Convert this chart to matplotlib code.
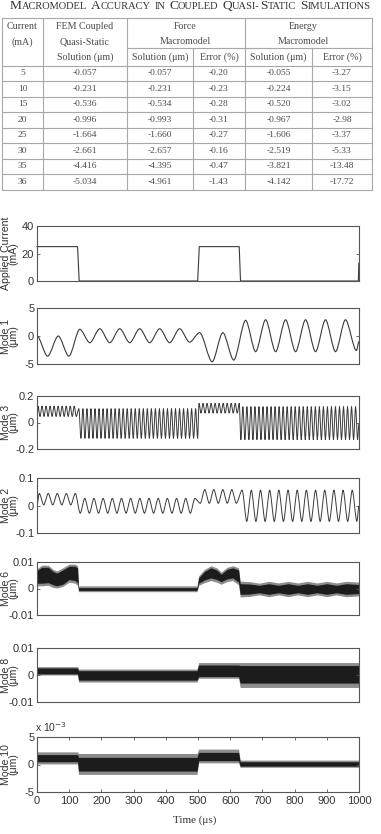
import numpy as np
import matplotlib
matplotlib.use("Agg")
import matplotlib.pyplot as plt
from matplotlib.lines import Line2D
from matplotlib.path import Path
from matplotlib.patches import PathPatch
from matplotlib import font_manager as fm

W, H = 381, 834

# ---------------- table data ----------------
title_text = "Macromodel Accuracy in Coupled Quasi-Static Simulations"
tbl_current = [5, 10, 15, 20, 25, 30, 35, 36]
tbl_fem = [-0.057, -0.231, -0.536, -0.996, -1.664, -2.661, -4.416, -5.034]
tbl_force_sol = [-0.057, -0.231, -0.534, -0.993, -1.660, -2.657, -4.395, -4.961]
tbl_force_err = [-0.20, -0.23, -0.28, -0.31, -0.27, -0.16, -0.47, -1.43]
tbl_energy_sol = [-0.055, -0.224, -0.520, -0.967, -1.606, -2.519, -3.821, -4.142]
tbl_energy_err = [-3.27, -3.15, -3.02, -2.98, -3.37, -5.33, -13.48, -17.72]

# ---------------- waveform data ----------------
time_ticks = [0, 100, 200, 300, 400, 500, 600, 700, 800, 900, 1000]

current_t = [0, 126, 131, 499, 504, 628, 632, 998, 999.5]
current_v = [25, 25, 0, 0, 25, 25, 0, 0, 13]

# Mode 1 extrema (time, value)
mode1_t = [0, 33, 66, 99, 133, 164, 195, 226, 257, 288, 319, 350, 381, 412, 443, 474,
           505, 544, 577, 611, 648, 679, 710, 741, 772, 803, 834, 865, 896, 927, 958, 992, 1000]
mode1_v = [0, -3.6, 0, -3.6, 1.2, -1.2, 1.3, -1.2, 1.3, -1.2, 1.3, -1.2, 1.3, -1.2, 1.3, -1.1,
           0.6, -4.6, 0.6, -4.3, 2.8, -2.8, 2.9, -2.8, 2.9, -2.8, 2.9, -2.8, 2.9, -2.8, 2.9, -2.6, -1.0]

# Mode 3 oscillation segments: start, end, period, high level, low level
mode3_start = [0, 127, 500, 630]
mode3_end = [127, 500, 630, 1000]
mode3_period = [12.5, 12.5, 12.5, 12.5]
mode3_high = [0.125, 0.105, 0.145, 0.12]
mode3_low = [0.045, -0.12, 0.07, -0.13]

# Mode 2 oscillation segments
mode2_start = [0, 127, 500, 630]
mode2_end = [127, 500, 630, 1000]
mode2_period = [28, 28.5, 28, 28.5]
mode2_high = [0.044, 0.026, 0.058, 0.056]
mode2_low = [0.002, -0.028, 0.008, -0.058]

# Mode 6 dense band envelopes (outer spikes and dense core)
mode6_t = [0, 15, 35, 50, 62, 80, 100, 118, 126, 129, 250, 380, 497, 502, 520, 540, 558, 572,
           590, 608, 626, 631, 660, 690, 720, 750, 780, 810, 840, 870, 900, 930, 960, 1000]
mode6_up = [0.0075, 0.0088, 0.0088, 0.0072, 0.0066, 0.0078, 0.0092, 0.0092, 0.0086, 0.0010,
            0.0010, 0.0010, 0.0010, 0.0048, 0.0072, 0.0086, 0.0078, 0.0062, 0.0080, 0.0086,
            0.0078, 0.0028, 0.0026, 0.0020, 0.0027, 0.0021, 0.0027, 0.0021, 0.0027, 0.0021,
            0.0027, 0.0021, 0.0027, 0.0024]
mode6_lo = [0.0010, 0.0010, 0.0012, 0.0004, 0.0002, 0.0008, 0.0024, 0.0020, 0.0012, -0.0012,
            -0.0012, -0.0012, -0.0012, 0.0012, 0.0022, 0.0030, 0.0024, 0.0016, 0.0026, 0.0030,
            0.0014, -0.0032, -0.0030, -0.0024, -0.0031, -0.0024, -0.0031, -0.0024, -0.0031,
            -0.0024, -0.0031, -0.0024, -0.0031, -0.0028]
mode6_core_up = [0.0068, 0.0080, 0.0080, 0.0064, 0.0058, 0.0070, 0.0084, 0.0084, 0.0078, 0.0003,
                 0.0003, 0.0003, 0.0003, 0.0040, 0.0064, 0.0078, 0.0070, 0.0054, 0.0072, 0.0078,
                 0.0070, 0.0018, 0.0017, 0.0012, 0.0018, 0.0012, 0.0018, 0.0012, 0.0018, 0.0012,
                 0.0018, 0.0012, 0.0018, 0.0015]
mode6_core_lo = [0.0020, 0.0020, 0.0022, 0.0014, 0.0010, 0.0016, 0.0034, 0.0030, 0.0022, -0.0007,
                 -0.0007, -0.0007, -0.0007, 0.0020, 0.0032, 0.0040, 0.0034, 0.0026, 0.0036, 0.0040,
                 0.0024, -0.0022, -0.0021, -0.0016, -0.0022, -0.0016, -0.0022, -0.0016, -0.0022,
                 -0.0016, -0.0022, -0.0016, -0.0022, -0.0019]

# Mode 8 dense band envelopes
mode8_t = [0, 126, 129, 497, 502, 626, 631, 1000]
mode8_up = [0.0031, 0.0031, 0.0022, 0.0022, 0.0046, 0.0046, 0.0046, 0.0046]
mode8_lo = [0.0000, 0.0000, -0.0026, -0.0026, -0.0012, -0.0012, -0.0046, -0.0046]
mode8_core_up = [0.0026, 0.0026, 0.0016, 0.0016, 0.0037, 0.0037, 0.0035, 0.0035]
mode8_core_lo = [0.0004, 0.0004, -0.0019, -0.0019, -0.0006, -0.0006, -0.0030, -0.0030]

# Mode 10 dense band envelopes (units of 1e-3 um)
mode10_t = [0, 126, 129, 497, 502, 626, 631, 1000]
mode10_up = [2.3, 2.3, 2.0, 2.0, 2.8, 2.8, 0.8, 0.8]
mode10_lo = [0.1, 0.1, -1.8, -1.8, 0.3, 0.3, -0.5, -0.5]
mode10_core_up = [1.8, 1.8, 1.3, 1.3, 2.2, 2.2, 0.5, 0.5]
mode10_core_lo = [0.5, 0.5, -1.2, -1.2, 0.7, 0.7, -0.3, -0.3]

# ---------------- fonts / styles ----------------
_names = {f.name for f in fm.fontManager.ttflist}
def pick(fams):
    r = [f for f in fams if f in _names]
    return r if r else ['DejaVu Sans']
SANS = pick(['Liberation Sans Narrow', 'Liberation Sans', 'DejaVu Sans'])
SERIF = pick(['Liberation Serif', 'DejaVu Serif'])
plt.rcParams['font.family'] = SANS

LINE_C = '#3a3a3a'
SPINE_C = '#555555'
TEXT_C = '#333333'
TBL_TXT = '#4a4a4a'
TBL_LINE = '#a8a8a8'

fig = plt.figure(figsize=(W / 100, H / 100), dpi=100)
fig.patch.set_facecolor('white')

def FX(x):
    return x / W

def FY(y):
    return 1 - y / H

# ---------------- title (small caps) ----------------
renderer = fig.canvas.get_renderer()
def small_caps(text, xc, ybase, big, small, color):
    runs = []
    for ch in text:
        if ch == ' ':
            runs.append((' ', None))
            continue
        size = big if ch.isupper() else small
        s = ch.upper()
        if runs and runs[-1][1] == size:
            runs[-1] = (runs[-1][0] + s, size)
        else:
            runs.append((s, size))
    widths = []
    for s, size in runs:
        if size is None:
            widths.append(0.30 * big * 100 / 72)
        else:
            t = fig.text(0, 0, s, fontsize=size, family=SERIF)
            widths.append(t.get_window_extent(renderer).width)
            t.remove()
    total = sum(widths)
    x = xc - total / 2
    for (s, size), w in zip(runs, widths):
        if size is not None:
            fig.text(FX(x), FY(ybase), s, fontsize=size, family=SERIF, color=color,
                     ha='left', va='baseline')
        x += w

small_caps(title_text, 190, 8.8, 9.6, 7.5, TEXT_C)

# ---------------- table ----------------
col_x = [2, 43, 127, 193, 245, 312, 372]
tbl_top = 18
sub_line = 48.3
head_bot = 65.7
row_h = 15.5
n_rows = len(tbl_current)
tbl_bot = head_bot + row_h * n_rows

def hline(y, x0, x1):
    fig.add_artist(Line2D([FX(x0), FX(x1)], [FY(y), FY(y)], color=TBL_LINE, lw=0.8,
                          transform=fig.transFigure))

def vline(x, y0, y1):
    fig.add_artist(Line2D([FX(x), FX(x)], [FY(y0), FY(y1)], color=TBL_LINE, lw=0.8,
                          transform=fig.transFigure))

hline(tbl_top, col_x[0], col_x[-1])
hline(sub_line, col_x[2], col_x[-1])
for i in range(n_rows + 1):
    hline(head_bot + i * row_h, col_x[0], col_x[-1])
for xi in [col_x[0], col_x[1], col_x[2], col_x[4], col_x[6]]:
    vline(xi, tbl_top, tbl_bot)
for xi in [col_x[3], col_x[5]]:
    vline(xi, sub_line, tbl_bot)

HS = 7.2
def ttext(x, y, s, size=HS):
    fig.text(FX(x), FY(y), s, fontsize=size, family=SERIF, color=TBL_TXT,
             ha='center', va='center')

cc = [(col_x[i] + col_x[i + 1]) / 2 for i in range(6)]
ttext(cc[0], 26.7, "Current")
ttext(cc[0], 41.7, "(mA)")
ttext(cc[1], 26.7, "FEM Coupled")
ttext(cc[1], 41.7, "Quasi-Static")
ttext(cc[1], 56.9, "Solution (\u03bcm)")
ttext(185, 26.7, "Force")
ttext(185, 41.7, "Macromodel")
ttext(303, 26.7, "Energy")
ttext(303, 41.7, "Macromodel")
ttext(cc[2], 56.9, "Solution (\u03bcm)")
ttext(cc[3], 56.9, "Error (%)")
ttext(cc[4], 56.9, "Solution (\u03bcm)")
ttext(cc[5], 56.9, "Error (%)")

NS = 6.8
for i in range(n_rows):
    yc = head_bot + row_h * (i + 0.5)
    ttext(cc[0], yc, f"{tbl_current[i]}", NS)
    ttext(cc[1], yc, f"{tbl_fem[i]:.3f}", NS)
    ttext(cc[2], yc, f"{tbl_force_sol[i]:.3f}", NS)
    ttext(cc[3], yc, f"{tbl_force_err[i]:.2f}", NS)
    ttext(cc[4], yc, f"{tbl_energy_sol[i]:.3f}", NS)
    ttext(cc[5], yc, f"{tbl_energy_err[i]:.2f}", NS)

# ---------------- waveform axes ----------------
AX_L, AX_R = 37, 359
TICK_FS = 8

def make_ax(top, bottom, yticks, ylabels, ylim, label, bottom_axis=False):
    ax = fig.add_axes([FX(AX_L), FY(bottom), (AX_R - AX_L) / W, (bottom - top) / H])
    for s in ax.spines.values():
        s.set_color(SPINE_C)
        s.set_linewidth(0.8)
    ax.set_xlim(0, 1000)
    ax.set_ylim(*ylim)
    ax.set_yticks(yticks)
    ax.set_yticklabels(ylabels)
    ax.tick_params(axis='y', direction='in', length=2.5, width=0.6, left=True, right=True,
                   labelsize=TICK_FS, pad=2, color=SPINE_C, labelcolor=TEXT_C)
    if bottom_axis:
        ax.set_xticks(time_ticks)
        ax.set_xticklabels([str(t) for t in time_ticks])
        ax.tick_params(axis='x', direction='in', length=2.5, width=0.6, top=True, bottom=True,
                       labelsize=TICK_FS, pad=3, color=SPINE_C, labelcolor=TEXT_C)
    else:
        ax.set_xticks([])
    yc = (top + bottom) / 2
    fig.text(FX(9.6), FY(yc), label, rotation=90, ha='center', va='center',
             multialignment='center', linespacing=0.72, fontsize=7.6, color=TEXT_C)
    return ax

def smooth_path(ts, vs, a=0.3):
    verts = [(ts[0], vs[0])]
    codes = [Path.MOVETO]
    for i in range(1, len(ts)):
        t0, v0, t1, v1 = ts[i - 1], vs[i - 1], ts[i], vs[i]
        dt = t1 - t0
        verts += [(t0 + a * dt, v0), (t1 - a * dt, v1), (t1, v1)]
        codes += [Path.CURVE4] * 3
    return Path(verts, codes)

def seg_extrema(starts, ends, periods, highs, lows):
    ts, vs = [0.0], [0.0]
    hi = True
    for s, e, p, h, l in zip(starts, ends, periods, highs, lows):
        t = s + p / 4
        while t < e - 1e-6:
            ts.append(t)
            vs.append(h if hi else l)
            hi = not hi
            t += p / 2
    ts.append(1000.0)
    vs.append((highs[-1] + lows[-1]) / 2)
    return ts, vs

# Applied current
ax = make_ax(226, 281, [0, 20, 40], ['0', '20', '40'], (0, 40), "Applied Current\n(mA)")
ax.plot(current_t, current_v, color=LINE_C, lw=0.8, clip_on=False)

# Mode 1
ax = make_ax(308, 364, [-5, 0, 5], ['-5', '0', '5'], (-5, 5), "Mode 1\n(\u03bcm)")
ax.add_patch(PathPatch(smooth_path(mode1_t, mode1_v), fill=False, edgecolor=LINE_C, lw=0.8))

# Mode 3
ax = make_ax(396, 449, [-0.2, 0, 0.2], ['-0.2', '0', '0.2'], (-0.2, 0.2), "Mode 3\n(\u03bcm)")
t3, v3 = seg_extrema(mode3_start, mode3_end, mode3_period, mode3_high, mode3_low)
ax.add_patch(PathPatch(smooth_path(t3, v3, 0.25), fill=False, edgecolor=LINE_C, lw=0.7))

# Mode 2
ax = make_ax(478, 533, [-0.1, 0, 0.1], ['-0.1', '0', '0.1'], (-0.1, 0.1), "Mode 2\n(\u03bcm)")
t2, v2 = seg_extrema(mode2_start, mode2_end, mode2_period, mode2_high, mode2_low)
ax.add_patch(PathPatch(smooth_path(t2, v2, 0.28), fill=False, edgecolor=LINE_C, lw=0.7))

# Mode 6
ax = make_ax(562, 615, [-0.01, 0, 0.01], ['-0.01', '0', '0.01'], (-0.01, 0.01), "Mode 6\n(\u03bcm)")
ax.fill_between(mode6_t, mode6_lo, mode6_up, color='#8c8c8c', lw=0)
ax.fill_between(mode6_t, mode6_core_lo, mode6_core_up, color='#1c1c1c', lw=0)

# Mode 8
ax = make_ax(648, 702, [-0.01, 0, 0.01], ['-0.01', '0', '0.01'], (-0.01, 0.01), "Mode 8\n(\u03bcm)")
ax.fill_between(mode8_t, mode8_lo, mode8_up, color='#8c8c8c', lw=0)
ax.fill_between(mode8_t, mode8_core_lo, mode8_core_up, color='#1c1c1c', lw=0)

# Mode 10
ax = make_ax(737, 792, [-5, 0, 5], ['-5', '0', '5'], (-5, 5), "Mode 10\n(\u03bcm)", bottom_axis=True)
ax.fill_between(mode10_t, mode10_lo, mode10_up, color='#8c8c8c', lw=0)
ax.fill_between(mode10_t, mode10_core_lo, mode10_core_up, color='#1c1c1c', lw=0)
fig.text(FX(35), FY(732), r"x 10$^{-3}$", fontsize=7.5, color=TEXT_C, ha='left', va='baseline')

fig.text(FX(195), FY(820), "Time (\u03bcs)", fontsize=8, family=SERIF, color=TEXT_C,
         ha='center', va='center')

fig.savefig("out.png", dpi=100, facecolor='white')
